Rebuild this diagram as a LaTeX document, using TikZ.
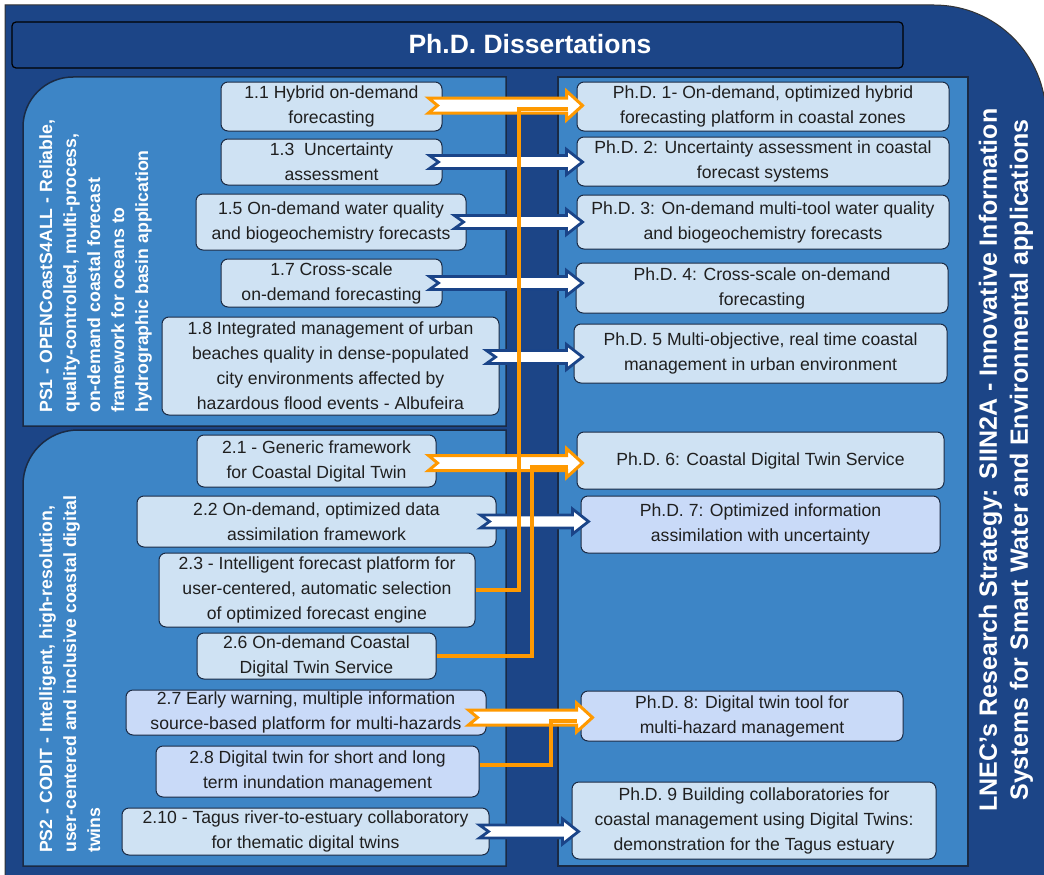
\documentclass[tikz,border=0pt]{standalone}
\usepackage{fontspec}
\setmainfont{Liberation Sans}
\usetikzlibrary{calc}
\definecolor{navy}{HTML}{1C4587}
\definecolor{panelblue}{HTML}{3D85C6}
\definecolor{lbox}{HTML}{CFE2F3}
\definecolor{lav}{HTML}{C9DAF8}
\definecolor{org}{HTML}{FF9900}
\definecolor{barr}{HTML}{1A4488}
\definecolor{edgec}{HTML}{1A2A44}
% #1 style, #2 tail, #3 tip, #4 shaft half height, #5 head half height
\newcommand{\blockarr}[5]{%
 \draw[#1] let \p1=#2, \p2=#3 in (\x1,\y1+#4) -- (\x2-16pt,\y1+#4) -- (\x2-16pt,\y1+#5) -- (\x2,\y1) -- (\x2-16pt,\y1-#5) -- (\x2-16pt,\y1-#4) -- (\x1,\y1-#4) -- (\x1+9pt,\y1) -- cycle;}
\begin{document}
\begin{tikzpicture}[x=1pt,y=-1pt,
  box/.style={draw=edgec, line width=1pt, rounded corners=7pt, fill=lbox, align=center, inner sep=0pt, font=\fontsize{17.6}{25}\selectfont, text=black!88},
  lavbox/.style={box, fill=lav},
  panel/.style={fill=panelblue, draw=edgec, line width=1.5pt},
  oarrow/.style={draw=org, line width=3pt, fill=white},
  barrow/.style={draw=barr, line width=2.8pt, fill=white},
  oline/.style={draw=org, line width=4pt},
  vtext/.style={rotate=90, anchor=north west, align=left, inner sep=0pt, text=white, font=\bfseries\fontsize{17.7}{24}\selectfont}]
\useasboundingbox (0,0) rectangle (1044,875);
\fill[white] (0,0) rectangle (1044,875);
% outer shape
\draw[fill=navy, draw=black!80, line width=1pt] (5,5) -- (934,5) .. controls (995.9,5) and (1046,55.1) .. (1046,117) -- (1046,880) -- (5,880) -- cycle;
% title bar
\draw[fill=navy, draw=black, line width=1.2pt, rounded corners=4pt] (12,22) rectangle (903,68);
\node[font=\bfseries\fontsize{26.5}{30}\selectfont, text=white, inner sep=0pt] (title) at (530,44) {Ph.D. Dissertations};
% panels
\draw[panel] (23,426) -- (23,127) .. controls (23,99.4) and (45.4,77) .. (73,77) -- (506,77) -- (506,426) -- cycle;
\draw[panel] (23,866) -- (23,485) .. controls (23,454.6) and (47.6,430) .. (78,430) -- (506,430) -- (506,866) -- cycle;
\draw[panel] (558,77) rectangle (968,866);
% vertical texts
\node[vtext] (ps1) at (39,413) {PS1 - OPENCoastS4ALL - Reliable,\\quality-controlled, multi-process,\\on-demand coastal forecast\\framework for oceans to\\hydrographic basin application};
\node[vtext] (ps2) at (39,853) {PS2 - CODIT - Intelligent, high-resolution,\\user-centered and inclusive coastal digital\\twins};
\node[rotate=90, align=center, inner sep=0pt, text=white, font=\bfseries\fontsize{25}{31}\selectfont] (lnec) at (1006,460) {LNEC’s Research Strategy: SIIN2A - Innovative Information\\Systems for Smart Water and Environmental applications};
% left boxes
\node[box, minimum width=221pt, minimum height=49pt] (b11) at (331.5,106.5) {1.1 Hybrid on-demand\\forecasting};
\node[box, minimum width=221pt, minimum height=46pt] (b13) at (331.5,162) {1.3\ \ Uncertainty\\assessment};
\node[box, minimum width=270pt, minimum height=56pt] (b15) at (331,222) {1.5 On-demand water quality\\and biogeochemistry forecasts};
\node[box, minimum width=221pt, minimum height=48pt] (b17) at (331.5,283) {1.7 Cross-scale\\on-demand forecasting};
\node[box, minimum width=337pt, minimum height=98pt] (b18) at (330.5,366) {1.8 Integrated management of urban\\beaches quality in dense-populated\\city environments affected by\\hazardous flood events - Albufeira};
\node[box, minimum width=239pt, minimum height=52pt] (b21) at (316.5,461) {2.1 - Generic framework\\for Coastal Digital Twin};
\node[box, minimum width=359pt, minimum height=51pt] (b22) at (316.5,521.5) {2.2 On-demand, optimized data\\assimilation framework};
\node[box, minimum width=316pt, minimum height=74pt] (b23) at (317,590) {2.3 - Intelligent forecast platform for\\user-centered, automatic selection\\of optimized forecast engine};
\node[box, minimum width=239pt, minimum height=46pt] (b26) at (316.5,656) {2.6 On-demand Coastal\\Digital Twin Service};
\node[lavbox, minimum width=360pt, minimum height=45pt] (b27) at (306,712.5) {2.7 Early warning, multiple information\\source-based platform for multi-hazards};
\node[lavbox, minimum width=323pt, minimum height=51pt] (b28) at (317.5,771.5) {2.8 Digital twin for short and long\\term inundation management};
\node[box, minimum width=367pt, minimum height=47pt] (b210) at (305.5,831.5) {2.10 - Tagus river-to-estuary collaboratory\\for thematic digital twins};
% right boxes
\node[box, minimum width=372pt, minimum height=49pt] (p1) at (763,106.5) {Ph.D. 1- On-demand, optimized hybrid\\forecasting platform in coastal zones};
\node[box, minimum width=372pt, minimum height=49pt] (p2) at (763,161.5) {Ph.D. 2: Uncertainty assessment in coastal\\forecast systems};
\node[box, minimum width=372pt, minimum height=54pt] (p3) at (763,222) {Ph.D. 3: On-demand multi-tool water quality\\and biogeochemistry forecasts};
\node[box, minimum width=372pt, minimum height=50pt] (p4) at (762,288) {Ph.D. 4: Cross-scale on-demand\\forecasting};
\node[box, minimum width=373pt, minimum height=59pt] (p5) at (760.5,353.5) {Ph.D. 5 Multi-objective, real time coastal\\management in urban environment};
\node[box, minimum width=367pt, minimum height=57pt] (p6) at (760.5,460.5) {Ph.D. 6: Coastal Digital Twin Service};
\node[lavbox, minimum width=359pt, minimum height=57pt] (p7) at (760.5,524.5) {Ph.D. 7: Optimized information\\assimilation with uncertainty};
\node[lavbox, minimum width=322pt, minimum height=50pt] (p8) at (742,716) {Ph.D. 8: Digital twin tool for\\multi-hazard management};
\node[box, minimum width=364pt, minimum height=77pt] (p9) at (754,820.5) {Ph.D. 9 Building collaboratories for\\coastal management using Digital Twins:\\demonstration for the Tagus estuary};
% block arrows
\blockarr{oarrow}{([xshift=-14pt,yshift=1pt]b11.east)}{([xshift=6pt]p1.west)}{7.5pt}{14.5pt}
\blockarr{barrow}{([xshift=-13pt]b13.east)}{([xshift=6pt]p2.west)}{6.5pt}{12.5pt}
\blockarr{barrow}{([xshift=-12pt]b15.east)}{([xshift=6pt]p3.west)}{6.5pt}{12.5pt}
\blockarr{barrow}{([xshift=-13pt]b17.east)}{([xshift=7pt]p4.west)}{6.5pt}{12.5pt}
\blockarr{barrow}{([xshift=-13pt,yshift=9pt]b18.east)}{([xshift=9pt]p5.west)}{6.5pt}{12.5pt}
\blockarr{oarrow}{([xshift=-8pt,yshift=-2pt]b21.east)}{([xshift=6pt]p6.west)}{7.5pt}{14.5pt}
\blockarr{barrow}{([xshift=-16pt]b22.east)}{([xshift=8pt]p7.west)}{6.5pt}{12.5pt}
\blockarr{oarrow}{([xshift=-18pt,yshift=-5pt]b27.east)}{([xshift=12pt]p8.west)}{7.5pt}{14.5pt}
\blockarr{barrow}{([xshift=-10pt]b210.east)}{([xshift=7pt]p9.west)}{6.5pt}{12.5pt}
% orange connector lines
\coordinate (j1) at (519,109); \coordinate (j1e) at (568,109);
\draw[oline] (b23.east) -| (j1) -- (j1e);
\coordinate (j2) at (532,467); \coordinate (j2e) at (568,467);
\draw[oline] (b26.east) -| (j2) -- (j2e);
\coordinate (j3) at (551,721); \coordinate (j3e) at (577,721);
\draw[oline] ([yshift=7pt]b28.east) -| (j3) -- (j3e);
\end{tikzpicture}
\end{document}
